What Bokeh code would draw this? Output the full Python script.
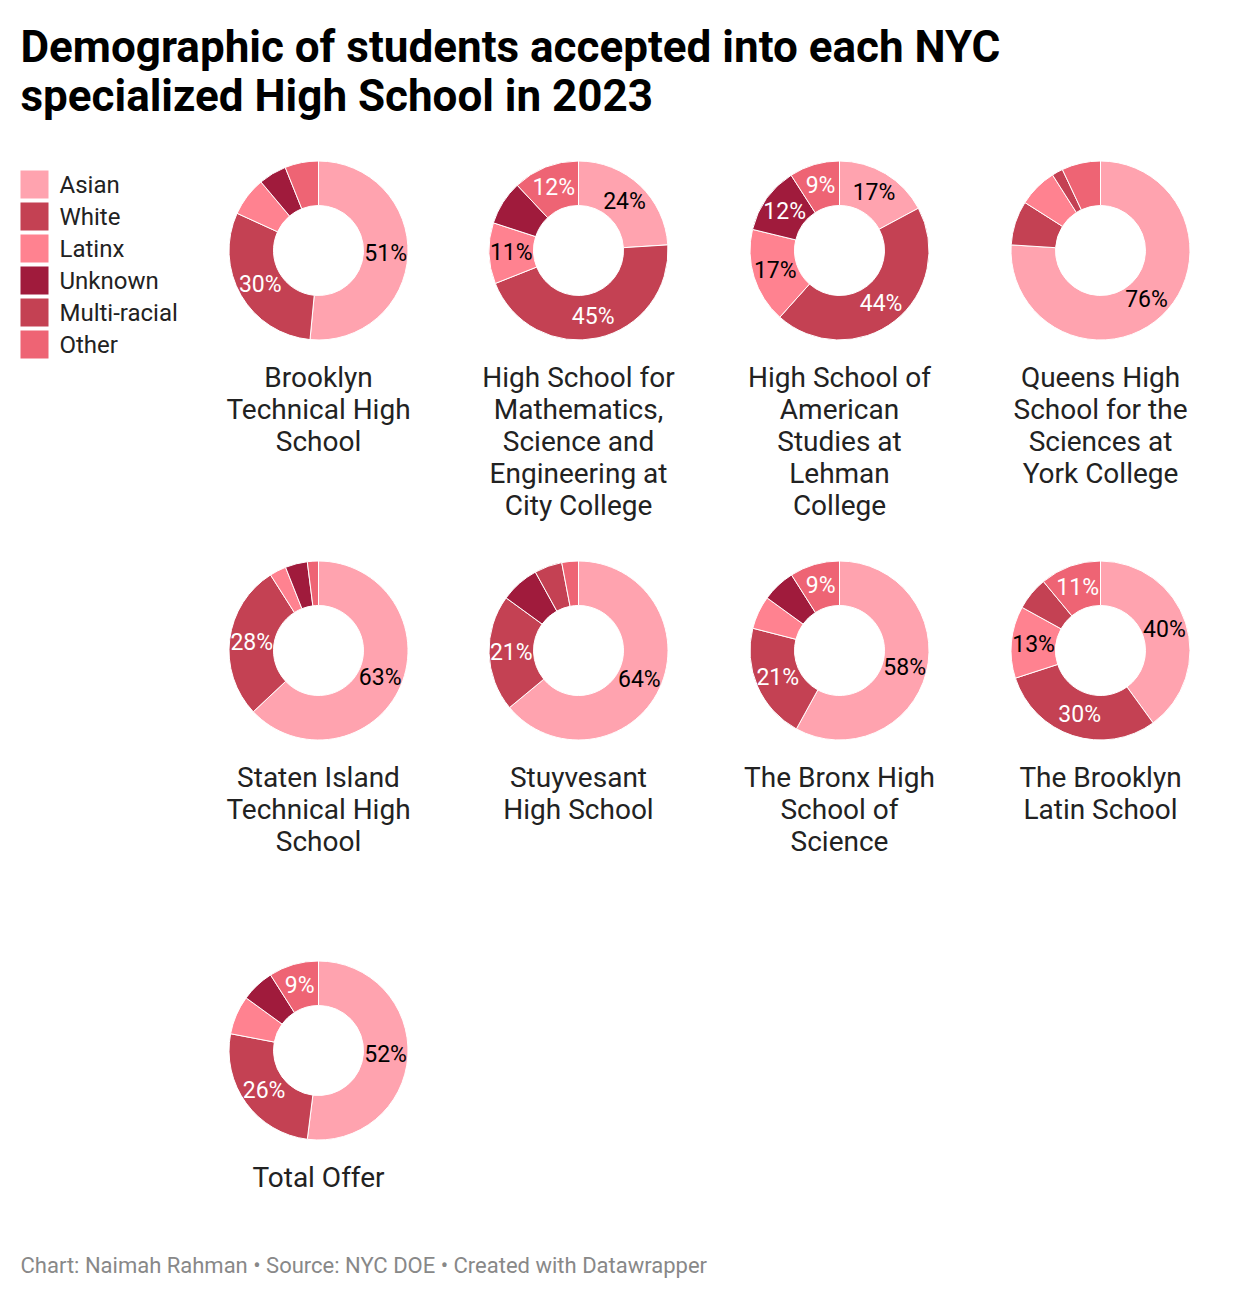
import numpy as np
from bokeh.plotting import figure
from bokeh.models import ColumnDataSource, Range1d
from bokeh.core.properties import value
from bokeh.embed import file_html
from bokeh.resources import INLINE

W, H = 1240, 1298

# ---------------- data ----------------
groups = ["Asian", "White", "Latinx", "Unknown", "Multi-racial", "Other"]
colors = ["#ffa3af", "#c44153", "#ff8290", "#a01b3c", "#c44153", "#ee6474"]
label_colors = ["#000000", "#ffffff", "#000000", "#ffffff", "#ffffff", "#ffffff"]

schools = [
    "Brooklyn\nTechnical High\nSchool",
    "High School for\nMathematics,\nScience and\nEngineering at\nCity College",
    "High School of\nAmerican\nStudies at\nLehman\nCollege",
    "Queens High\nSchool for the\nSciences at\nYork College",
    "Staten Island\nTechnical High\nSchool",
    "Stuyvesant\nHigh School",
    "The Bronx High\nSchool of\nScience",
    "The Brooklyn\nLatin School",
    "Total Offer",
]
asian = [51, 24, 17, 76, 63, 64, 58, 40, 52]
white = [30, 45, 44, 8, 28, 21, 21, 30, 26]
latinx = [7, 11, 17, 7, 3, 0, 6, 13, 7]
unknown = [5, 8, 12, 0, 4, 7, 6, 0, 6]
multi = [0, 0, 0, 2, 0, 5, 0, 6, 0]
other = [6, 12, 9, 7, 2, 3, 9, 11, 9]

title_lines = ["Demographic of students accepted into each NYC",
               "specialized High School in 2023"]
footer = "Chart: Naimah Rahman \u2022 Source: NYC DOE \u2022 Created with Datawrapper"

# ---------------- layout ----------------
col_x = [318, 578, 839, 1100]
row_y = [250, 650, 1050]
R_OUT, R_IN = 89.5, 45
R_LAB = (R_OUT + R_IN) / 2
FONT = value("Roboto")

def Y(ypix):
    return H - ypix

p = figure(width=W, height=H, output_backend="svg", toolbar_location=None,
           x_range=Range1d(0, W), y_range=Range1d(0, H),
           x_axis_location=None, y_axis_location=None, min_border=0,
           background_fill_color="white", border_fill_color="white")
p.outline_line_color = None
p.grid.visible = False

series = [asian, white, latinx, unknown, multi, other]

wx, wy, ws, we, wc = [], [], [], [], []
lx, ly, lt, lc = [], [], [], []
nx, ny, nt = [], [], []
for i, name in enumerate(schools):
    cx = col_x[i % 4]
    cy = row_y[i // 4]
    vals = np.array([s[i] for s in series], dtype=float)
    total = vals.sum()
    cum = 0.0
    for g, v in enumerate(vals):
        if v <= 0:
            continue
        a0 = cum / total * 2 * np.pi
        a1 = (cum + v) / total * 2 * np.pi
        cum += v
        wx.append(cx); wy.append(Y(cy))
        ws.append(np.pi / 2 - a0); we.append(np.pi / 2 - a1)
        wc.append(colors[g])
        if v >= 9:
            am = (a0 + a1) / 2
            lx.append(cx + R_LAB * np.sin(am))
            ly.append(Y(cy) + R_LAB * np.cos(am))
            lt.append(f"{int(v)}%")
            lc.append(label_colors[g])
    for k, line in enumerate(name.split("\n")):
        nx.append(cx); ny.append(Y(cy + 127 + 32 * k)); nt.append(line)

p.annular_wedge(x="x", y="y", inner_radius=R_IN, outer_radius=R_OUT,
                start_angle="s", end_angle="e", direction="clock",
                fill_color="c", line_color="white", line_width=1,
                source=ColumnDataSource(dict(x=wx, y=wy, s=ws, e=we, c=wc)))

p.text(x="x", y="y", text="t", text_color="c", source=ColumnDataSource(dict(x=lx, y=ly, t=lt, c=lc)),
       text_font=FONT, text_font_size="23px", text_align="center", text_baseline="middle")

p.text(x=nx, y=ny, text=nt, text_font=FONT, text_font_size="28px", text_color="#222222",
       text_align="center", text_baseline="middle")

# legend
leg_y = [184 + 32 * k for k in range(len(groups))]
p.rect(x=[34] * len(groups), y=[Y(v) for v in leg_y], width=28, height=28,
       fill_color=colors, line_color=None)
p.text(x=[59] * len(groups), y=[Y(v) for v in leg_y], text=groups, text_font=FONT,
       text_font_size="24px", text_color="#222222", text_align="left", text_baseline="middle")

# title
p.text(x=[20, 20], y=[Y(46), Y(95)], text=title_lines, text_font=FONT, text_font_style="bold",
       text_font_size="44px", text_color="#000000", text_align="left", text_baseline="middle")

# footer
p.text(x=[20], y=[Y(1265)], text=[footer], text_font=FONT, text_font_size="22px",
       text_color="#888888", text_align="left", text_baseline="middle")

open("out.html", "w").write(file_html(p, INLINE))
